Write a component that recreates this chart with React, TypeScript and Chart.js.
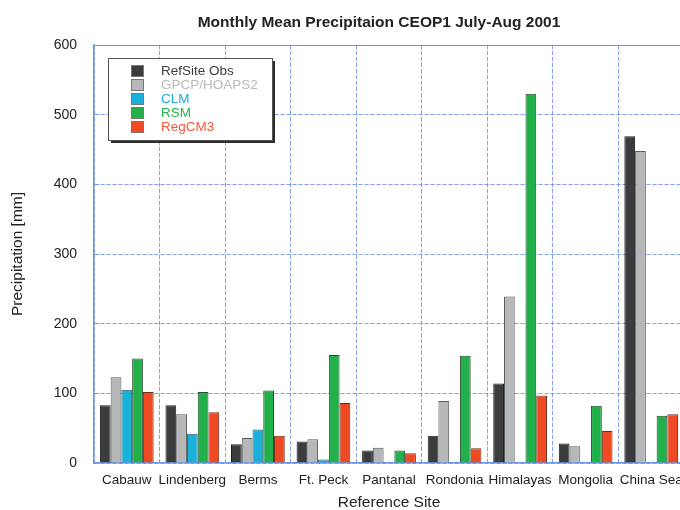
import { useEffect, useRef } from "react";
import { Chart, registerables } from "chart.js";

Chart.register(...registerables);

const FONT = "'Liberation Sans', Arial, Helvetica, sans-serif";

// Monthly mean precipitation (mm), CEOP1 July-Aug 2001
const sites = ["Cabauw", "Lindenberg", "Berms", "Ft. Peck", "Pantanal", "Rondonia", "Himalayas", "Mongolia", "China Sea"];
const refSiteObs = [83, 83, 27, 31, 18, 39, 114, 28, 469];
const gpcpHoaps2 = [123, 70, 36, 34, 22, 89, 239, 24, 448];
const clm = [105, 42, 48, 5, null, null, null, null, null];
const rsm = [150, 102, 104, 155, 18, 154, 530, 82, 68];
const regcm3 = [102, 73, 39, 86, 14, 21, 97, 46, 70];

const seriesNames = ["RefSite Obs", "GPCP/HOAPS2", "CLM", "RSM", "RegCM3"];
const barColors = ["#3b3c3e", "#b6b7b9", "#17b1da", "#22b04b", "#f04a23"];
const edgeColors = ["#1e1e1e", "#5a5a5a", "#3d5a66", "#2c4a33", "#6a3020"];
const legendTextColors = ["#3d3d3d", "#b9babc", "#1aaee0", "#27b04e", "#f5593a"];

const chartTitle = "Monthly Mean Precipitaion CEOP1 July-Aug 2001";
const xTitle = "Reference Site";
const yTitle = "Precipitation [mm]";
const yMin = 0;
const yMax = 600;
const yStep = 100;

const GRID_BLUE = "rgba(96,146,230,0.8)";
const GRID_PINK = "rgba(235,150,190,0.18)";
const AXIS_BLUE = "#6a98e6";

// same half-pixel snapping that the scales use for 1px grid lines
const snap = (p: number) => Math.round(p - 0.5) + 0.5;

// Faint pink line under every grid line, showing through the gaps of the blue dashes
const gridUnderlayPlugin = {
  id: "gridUnderlay",
  beforeDatasetsDraw(chart: any) {
    const { ctx, chartArea, scales } = chart;
    ctx.save();
    ctx.globalCompositeOperation = "destination-over";
    ctx.strokeStyle = GRID_PINK;
    ctx.lineWidth = 1;
    scales.y.ticks.forEach((t: any) => {
      const py = snap(scales.y.getPixelForValue(t.value));
      ctx.beginPath();
      ctx.moveTo(chartArea.left, py);
      ctx.lineTo(chartArea.right, py);
      ctx.stroke();
    });
    const x = scales.x;
    for (let i = 1; i < sites.length; i++) {
      const px = snap((x.getPixelForTick(i - 1) + x.getPixelForTick(i)) / 2);
      ctx.beginPath();
      ctx.moveTo(px, chartArea.top);
      ctx.lineTo(px, chartArea.bottom);
      ctx.stroke();
    }
    ctx.restore();
  },
};

// Solid frame along the top and short solid stubs where the value grid meets the y axis
const framePlugin = {
  id: "frame",
  beforeDatasetsDraw(chart: any) {
    const { ctx, chartArea, scales } = chart;
    ctx.save();
    ctx.strokeStyle = AXIS_BLUE;
    ctx.lineWidth = 1;
    ctx.beginPath();
    ctx.moveTo(chartArea.left, chartArea.top + 0.5);
    ctx.lineTo(chartArea.right, chartArea.top + 0.5);
    ctx.stroke();
    const y = scales.y;
    y.ticks.forEach((t: any) => {
      const py = snap(y.getPixelForValue(t.value));
      ctx.beginPath();
      ctx.moveTo(chartArea.left, py);
      ctx.lineTo(chartArea.left + 5, py);
      ctx.stroke();
    });
    ctx.restore();
  },
};

// Chart heading, centred a little left of the plot centre
const headerPlugin = {
  id: "header",
  afterDraw(chart: any) {
    const { ctx, chartArea } = chart;
    ctx.save();
    ctx.font = `bold 15.5px ${FONT}`;
    ctx.fillStyle = "#222";
    ctx.textAlign = "center";
    ctx.textBaseline = "middle";
    ctx.fillText(chartTitle, (chartArea.left + chartArea.right) / 2 - 10, 23);
    ctx.restore();
  },
};

// Boxed legend with a drop shadow inside the plot area
const boxLegendPlugin = {
  id: "boxLegend",
  afterDatasetsDraw(chart: any) {
    const { ctx, chartArea } = chart;
    const x = chartArea.left + 14;
    const y = chartArea.top + 13;
    const w = 164;
    const h = 82;
    ctx.save();
    ctx.fillStyle = "#2b2b2b";
    ctx.fillRect(x + 3, y + 3, w, h);
    ctx.fillStyle = "#ffffff";
    ctx.fillRect(x, y, w, h);
    ctx.strokeStyle = "#555";
    ctx.lineWidth = 1;
    ctx.strokeRect(x + 0.5, y + 0.5, w, h);
    ctx.font = `13.5px ${FONT}`;
    ctx.textAlign = "left";
    ctx.textBaseline = "middle";
    chart.data.datasets.forEach((ds: any, i: number) => {
      const cy = y + 13 + i * 14;
      ctx.fillStyle = ds.backgroundColor;
      ctx.fillRect(x + 23, cy - 6, 13, 12);
      ctx.strokeStyle = "#777";
      ctx.strokeRect(x + 23.5, cy - 5.5, 12, 11);
      ctx.fillStyle = legendTextColors[i];
      ctx.fillText(ds.label, x + 53, cy);
    });
    ctx.restore();
  },
};

export default function App() {
  const canvasRef = useRef<HTMLCanvasElement | null>(null);

  useEffect(() => {
    if (!canvasRef.current) return;
    const values = [refSiteObs, gpcpHoaps2, clm, rsm, regcm3];
    const chart = new Chart(canvasRef.current, {
      type: "bar",
      data: {
        labels: sites,
        datasets: values.map((v, i) => ({
          label: seriesNames[i],
          data: v as (number | null)[],
          backgroundColor: barColors[i],
          borderColor: edgeColors[i],
          borderWidth: 1,
          barPercentage: 1,
          categoryPercentage: 0.82,
        })),
      },
      options: {
        responsive: false,
        animation: false,
        layout: { padding: { top: 45, right: 16, left: 0, bottom: 0 } },
        plugins: {
          legend: { display: false },
          title: { display: false },
          tooltip: { enabled: false },
        },
        scales: {
          x: {
            offset: true,
            grid: { color: GRID_BLUE, lineWidth: 1, offset: true, drawTicks: false },
            border: { color: AXIS_BLUE, width: 1.5, dash: [4, 2] },
            ticks: { color: "#222", font: { family: FONT, size: 13.5 }, padding: 9, maxRotation: 0, autoSkip: false },
            title: {
              display: true,
              text: xTitle,
              color: "#222",
              font: { family: FONT, size: 15.5, lineHeight: 1 },
              padding: { top: 0, bottom: 0 },
            },
            afterFit(scale: any) {
              scale.height = 47;
            },
          },
          y: {
            min: yMin,
            max: yMax,
            grid: { color: GRID_BLUE, lineWidth: 1, drawTicks: false },
            border: { color: AXIS_BLUE, width: 1.5, dash: [4, 2] },
            ticks: { stepSize: yStep, color: "#222", font: { family: FONT, size: 14 }, padding: 17 },
            title: {
              display: true,
              text: yTitle,
              color: "#222",
              font: { family: FONT, size: 15.5, lineHeight: 1 },
              padding: { top: 10, bottom: 0 },
            },
            afterFit(scale: any) {
              scale.width = 94;
            },
          },
        },
      },
      plugins: [gridUnderlayPlugin, framePlugin, boxLegendPlugin, headerPlugin],
    });
    return () => chart.destroy();
  }, []);

  return (
    <div style={{ position: "absolute", left: 0, top: 0, width: 680, height: 510, overflow: "hidden", background: "#fff" }}>
      <canvas ref={canvasRef} width={700} height={510} style={{ display: "block" }} />
    </div>
  );
}
